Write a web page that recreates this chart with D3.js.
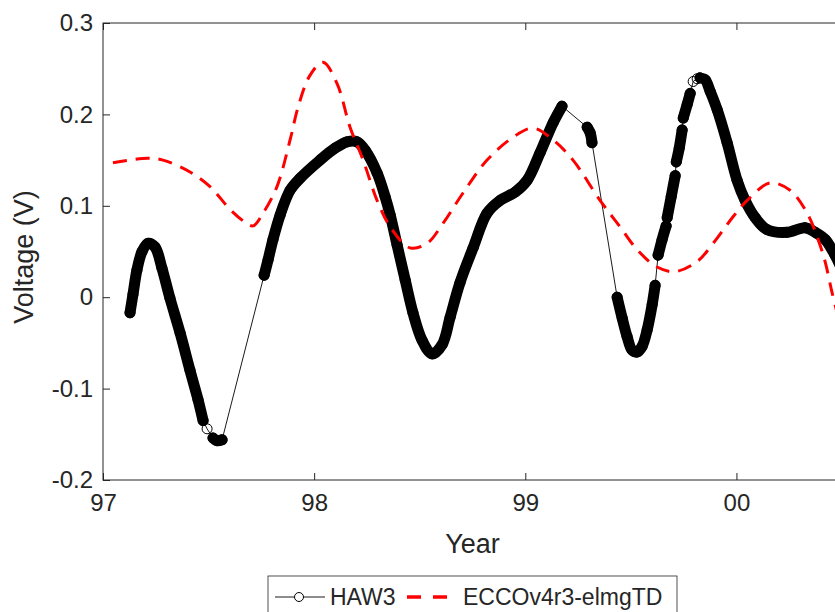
<!DOCTYPE html>
<meta charset="utf-8">
<script src="https://d3js.org/d3.v7.min.js"></script>
<style>
    body { margin: 0; background: #fff; }
    text { font-family: "Liberation Sans", Arial, Helvetica, sans-serif; fill: #262626; }
    .axis path { display: none; }
    .axis line { stroke: #262626; stroke-width: 1; }
</style>
<body>
<script>

    // HAW3 cable voltage, one entry per sample, seg = contiguous block of data
    var haw3Year = [97.128, 97.142, 97.161, 97.185, 97.213, 97.246, 97.279, 97.317, 97.365, 97.412, 97.450, 97.474,
        97.493,
        97.521, 97.540, 97.564,
        97.763, 97.782, 97.805, 97.839, 97.886, 97.933, 98.028, 98.099, 98.156, 98.203, 98.241, 98.298, 98.336, 98.360,
        98.393, 98.431, 98.468, 98.511, 98.558, 98.606, 98.644, 98.691, 98.753, 98.819, 98.881, 98.952, 99.009, 99.070,
        99.132, 99.174,
        99.293, 99.307, 99.316,
        99.435, 99.459, 99.482, 99.506, 99.530, 99.553, 99.577, 99.601, 99.615,
        99.629, 99.648, 99.667,
        99.672, 99.691, 99.710,
        99.715, 99.729, 99.743,
        99.748, 99.767, 99.781,
        99.795, 99.814,
        99.828, 99.852, 99.876, 99.909, 99.956, 100.003, 100.041, 100.089, 100.145, 100.240, 100.325, 100.373, 100.421,
        100.467, 100.500]
    var haw3Volt = [-0.017, 0.003, 0.030, 0.050, 0.059, 0.055, 0.032, -0.001, -0.039, -0.080, -0.112, -0.135,
        -0.144,
        -0.154, -0.157, -0.156,
        0.024, 0.041, 0.063, 0.090, 0.117, 0.130, 0.150, 0.163, 0.170, 0.170, 0.161, 0.136, 0.110, 0.090,
        0.057, 0.019, -0.017, -0.047, -0.062, -0.052, -0.022, 0.016, 0.054, 0.092, 0.106, 0.115, 0.128, 0.158,
        0.191, 0.209,
        0.186, 0.180, 0.169,
        0.000, -0.023, -0.043, -0.058, -0.060, -0.054, -0.036, -0.008, 0.013,
        0.046, 0.063, 0.078,
        0.087, 0.110, 0.133,
        0.148, 0.163, 0.183,
        0.196, 0.211, 0.223,
        0.236, 0.239,
        0.240, 0.238, 0.225, 0.205, 0.169, 0.128, 0.106, 0.087, 0.074, 0.071, 0.076, 0.071, 0.063,
        0.046, 0.030]
    var haw3Seg = [0, 0, 0, 0, 0, 0, 0, 0, 0, 0, 0, 0,
        1,
        2, 2, 2,
        3, 3, 3, 3, 3, 3, 3, 3, 3, 3, 3, 3, 3, 3,
        3, 3, 3, 3, 3, 3, 3, 3, 3, 3, 3, 3, 3, 3,
        3, 3,
        4, 4, 4,
        5, 5, 5, 5, 5, 5, 5, 5, 5,
        6, 6, 6,
        7, 7, 7,
        8, 8, 8,
        9, 9, 9,
        10, 11,
        12, 12, 12, 12, 12, 12, 12, 12, 12, 12, 12, 12, 12,
        12, 12]

    // ECCOv4r3-elmgTD model
    var eccoYear = [97.047, 97.128, 97.213, 97.284, 97.412, 97.507, 97.602, 97.673, 97.711, 97.758, 97.824, 97.886,
        97.924, 97.981, 98.042, 98.108, 98.170, 98.232, 98.298, 98.360, 98.454, 98.535, 98.611, 98.705, 98.819,
        98.942, 99.037, 99.132, 99.226, 99.354, 99.449, 99.530, 99.624, 99.710, 99.814, 99.890, 99.984, 100.051,
        100.159, 100.254, 100.335, 100.387, 100.420, 100.453, 100.480]
    var eccoVolt = [0.147, 0.150, 0.152, 0.150, 0.137, 0.121, 0.096, 0.082, 0.078, 0.092, 0.121, 0.172,
        0.208, 0.243, 0.257, 0.234, 0.186, 0.150, 0.106, 0.077, 0.054, 0.059, 0.081, 0.114, 0.150,
        0.175, 0.185, 0.172, 0.150, 0.106, 0.077, 0.052, 0.033, 0.028, 0.039, 0.059, 0.088, 0.106,
        0.125, 0.117, 0.092, 0.063, 0.039, 0.005, -0.020]

    var xTicks = [97, 98, 99, 100]
    var xLabels = ["97", "98", "99", "00"]
    var yTicks = [-0.2, -0.1, 0, 0.1, 0.2, 0.3]
    var yLabels = ["-0.2", "-0.1", "0", "0.1", "0.2", "0.3"]
    var seriesNames = ["HAW3", "ECCOv4r3-elmgTD"]

    var pad_l = 103, pad_t = 23
    var w = 739, h = 457

    var x_scale = d3.scaleLinear().domain([97, 100.5]).range([0, w])
    var y_scale = d3.scaleLinear().domain([-0.2, 0.3]).range([h, 0])

    var svg = d3.select("body").append("svg").attr("width", 835).attr("height", 612)
    var g = svg.append("g").attr("transform", "translate(" + pad_l + "," + pad_t + ")")

    g.append("clipPath").attr("id", "plotclip").append("rect").attr("width", w).attr("height", h)

    var haw3 = haw3Year.map((d, i) => { return {year: d, volt: haw3Volt[i], seg: haw3Seg[i]} })
    var ecco = eccoYear.map((d, i) => { return {year: d, volt: eccoVolt[i]} })

    var plot = g.append("g").attr("clip-path", "url(#plotclip)")

    var thin = d3.line().x((d) => x_scale(d.year)).y((d) => y_scale(d.volt))
    var smooth = d3.line().x((d) => x_scale(d.year)).y((d) => y_scale(d.volt)).curve(d3.curveCatmullRom)

    // thin connector through the gaps
    plot.append("path").datum(haw3).attr("d", thin)
        .style("fill", "none").style("stroke", "#000").style("stroke-width", 0.9)

    // dense marker runs look like a thick band
    var segs = d3.groups(haw3, (d) => d.seg)
    segs.forEach((s) => {
        if (s[1].length > 1) {
            plot.append("path").datum(s[1]).attr("d", smooth)
                .style("fill", "none").style("stroke", "#000").style("stroke-width", 11)
                .style("stroke-linecap", "round").style("stroke-linejoin", "round")
        }
    })

    plot.selectAll(".mark").data(haw3).enter().append("circle").attr("class", "mark")
        .attr("cx", (d) => x_scale(d.year)).attr("cy", (d) => y_scale(d.volt)).attr("r", 5)
        .style("fill", "none").style("stroke", "#000").style("stroke-width", 1)

    plot.append("path").datum(ecco).attr("d", smooth)
        .style("fill", "none").style("stroke", "#ff0000").style("stroke-width", 3)
        .style("stroke-dasharray", "14,9")

    // axes, ticks pointing inward on all four sides
    g.append("rect").attr("width", w).attr("height", h)
        .style("fill", "none").style("stroke", "#262626").style("stroke-width", 1)

    var xb = g.append("g").attr("class", "axis").attr("transform", "translate(0," + h + ")")
        .call(d3.axisBottom(x_scale).tickValues(xTicks).tickSizeInner(-7).tickSizeOuter(0).tickPadding(14)
            .tickFormat((d, i) => xLabels[i]))
    xb.selectAll("text").style("font-size", "24px").attr("dy", "0.71em")
    g.append("g").attr("class", "axis")
        .call(d3.axisTop(x_scale).tickValues(xTicks).tickSizeInner(-7).tickSizeOuter(0).tickFormat(""))

    var yl = g.append("g").attr("class", "axis")
        .call(d3.axisLeft(y_scale).tickValues(yTicks).tickSizeInner(-7).tickSizeOuter(0).tickPadding(10)
            .tickFormat((d, i) => yLabels[i]))
    yl.selectAll("text").style("font-size", "24px")
    g.append("g").attr("class", "axis").attr("transform", "translate(" + w + ",0)")
        .call(d3.axisRight(y_scale).tickValues(yTicks).tickSizeInner(-7).tickSizeOuter(0).tickFormat(""))

    g.append("text").attr("x", w / 2).attr("y", 553 - pad_t).text("Year")
        .style("text-anchor", "middle").style("font-size", "27px")
    g.append("text").attr("transform", "translate(" + (24 - pad_l) + "," + (257 - pad_t) + ") rotate(-90)")
        .attr("dy", "0.35em").text("Voltage (V)")
        .style("text-anchor", "middle").style("font-size", "27px")

    // legend
    var lg = svg.append("g").attr("transform", "translate(268,576)")
    lg.append("rect").attr("width", 409).attr("height", 46)
        .style("fill", "#fff").style("stroke", "#262626").style("stroke-width", 0.8)
    lg.append("line").attr("x1", 7).attr("x2", 57).attr("y1", 21).attr("y2", 21)
        .style("stroke", "#000").style("stroke-width", 0.9)
    lg.append("circle").attr("cx", 31).attr("cy", 21).attr("r", 4.5)
        .style("fill", "#fff").style("stroke", "#000").style("stroke-width", 1)
    lg.append("text").attr("x", 62).attr("y", 21).attr("dy", "0.36em").text(seriesNames[0]).style("font-size", "23px")
    lg.append("line").attr("x1", 139).attr("x2", 179).attr("y1", 21).attr("y2", 21)
        .style("stroke", "#ff0000").style("stroke-width", 3.5).style("stroke-dasharray", "14,12")
    lg.append("text").attr("x", 195).attr("y", 21).attr("dy", "0.36em").text(seriesNames[1]).style("font-size", "23px")

</script>
</body>
</html>
